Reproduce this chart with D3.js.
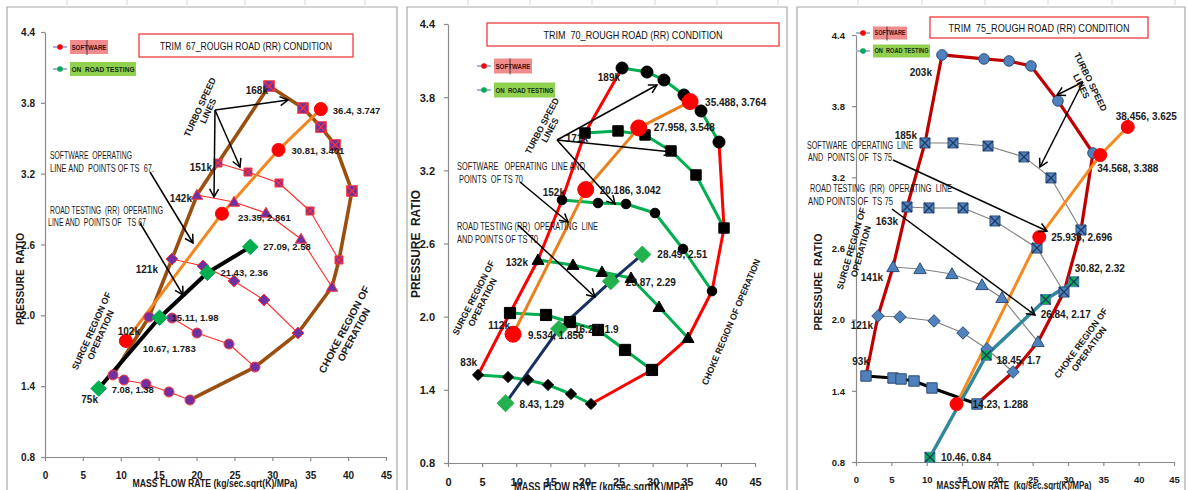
<!DOCTYPE html>
<html>
<head>
<meta charset="utf-8">
<script src="https://cdn.jsdelivr.net/npm/d3@7/dist/d3.min.js"></script>
<style>
  body { margin: 0; background: #fff; }
  svg { display: block; }
</style>
</head>
<body>
<svg id="chart" width="1188" height="490"></svg>
<script>
// ---------- shared axis ticks ----------
const flowTicks = [0, 5, 10, 15, 20, 25, 30, 35, 40, 45];
const ratioTicks = [0.8, 1.4, 2.0, 2.6, 3.2, 3.8, 4.4];
const ratioTickLabels = ["0.8", "1.4", "2.0", "2.6", "3.2", "3.8", "4.4"];

// ---------- TRIM 67 compressor map ----------
const ts67Speeds = ["75k", "102k", "121k", "142k", "151k", "168k"];
const ts67SpeedFlow = [
  [8.97, 10.42, 13.33, 16.36, 19.13],
  [13.72, 16.76, 20.06, 24.28, 27.71],
  [16.76, 20.85, 24.94, 28.9, 33.39],
  [20.06, 24.94, 29.16, 33.78, 37.87],
  [22.83, 26.79, 30.88, 34.97, 38.8],
  [29.56, 34.05, 36.42, 38.27, 40.51]
];
const ts67SpeedRatio = [
  [1.495, 1.452, 1.418, 1.351, 1.283],
  [1.986, 1.977, 1.85, 1.757, 1.562],
  [2.477, 2.418, 2.291, 2.13, 1.85],
  [3.019, 2.96, 2.867, 2.647, 2.24],
  [3.29, 3.214, 3.121, 2.884, 2.469],
  [3.942, 3.756, 3.595, 3.443, 3.053]
];
const ts67SoftFlow = [10.67, 23.35, 30.81, 36.4];
const ts67SoftRatio = [1.783, 2.861, 3.401, 3.747];
const ts67RoadFlow = [7.08, 15.11, 21.43, 27.09];
const ts67RoadRatio = [1.38, 1.98, 2.36, 2.58];

// ---------- TRIM 70 compressor map ----------
const ts70Speeds = ["83k", "112k", "132k", "152k", "171k", "189k"];
const ts70SpeedFlow = [
  [4.4, 8.8, 11.73, 14.66, 18.03, 20.96],
  [9.09, 14.37, 17.88, 21.99, 25.95, 29.9],
  [13.19, 18.32, 22.57, 26.83, 30.93, 35.18],
  [16.71, 21.99, 26.09, 30.34, 34.45, 38.7],
  [20.08, 24.92, 28.88, 32.69, 36.35, 40.46],
  [25.51, 29.17, 31.66, 34.59, 37.09, 39.72]
];
const ts70SpeedRatio = [
  [1.522, 1.505, 1.481, 1.44, 1.366, 1.284],
  [2.03, 2.014, 1.956, 1.891, 1.727, 1.563],
  [2.465, 2.424, 2.366, 2.317, 2.079, 1.825],
  [2.957, 2.932, 2.924, 2.85, 2.555, 2.21],
  [3.506, 3.523, 3.49, 3.359, 3.162, 2.727],
  [4.039, 4.006, 3.941, 3.818, 3.687, 3.432]
];
const ts70SoftFlow = [9.534, 20.186, 27.958, 35.488];
const ts70SoftRatio = [1.856, 3.042, 3.548, 3.764];
const ts70RoadFlow = [8.43, 16.27, 23.87, 28.49];
const ts70RoadRatio = [1.29, 1.9, 2.29, 2.51];

// ---------- TRIM 75 compressor map ----------
const ts75Speeds = ["93k", "121k", "141k", "163k", "185k", "203k"];
const ts75SpeedFlow = [
  [1.415, 5.24, 6.37, 8.21, 10.75, 17.12],
  [3.11, 6.23, 11.04, 15.14, 18.54, 22.22],
  [5.24, 9.06, 13.58, 17.83, 20.66, 25.75],
  [7.22, 10.33, 15.14, 19.67, 25.61, 29.43],
  [9.76, 13.73, 18.68, 23.77, 27.59, 31.84],
  [12.17, 18.11, 21.65, 24.76, 28.58, 33.54]
];
const ts75SpeedRatio = [
  [1.525, 1.508, 1.5, 1.483, 1.424, 1.289],
  [2.031, 2.023, 1.989, 1.888, 1.753, 1.559],
  [2.444, 2.427, 2.385, 2.292, 2.183, 1.812],
  [2.95, 2.942, 2.942, 2.832, 2.604, 2.233],
  [3.49, 3.49, 3.464, 3.372, 3.195, 2.756],
  [4.232, 4.198, 4.181, 4.139, 3.844, 3.405]
];
const ts75SoftFlow = [14.23, 25.936, 34.568, 38.456];
const ts75SoftRatio = [1.288, 2.696, 3.388, 3.625];
const ts75RoadFlow = [10.46, 18.45, 26.84, 30.82];
const ts75RoadRatio = [0.84, 1.7, 2.17, 2.32];

// ---------- helpers ----------
const NARROW = '"Liberation Sans Narrow","Arial Narrow","Liberation Sans",Arial,sans-serif';
const ARIAL = '"Liberation Sans",Arial,sans-serif';
const svg = d3.select("#chart");

const defs = svg.append("defs");
defs.append("marker").attr("id", "arrowHead")
  .attr("viewBox", "-10 -6 12 12").attr("refX", 0).attr("refY", 0)
  .attr("markerWidth", 12).attr("markerHeight", 12)
  .attr("markerUnits", "userSpaceOnUse").attr("orient", "auto")
  .append("path").attr("d", "M-8,-4.5L0,0L-8,4.5")
  .attr("fill", "none").attr("stroke", "#000").attr("stroke-width", 1.5);

function makeScales(xr, yr) {
  return {
    x: d3.scaleLinear().domain([0, 45]).range(xr),
    y: d3.scaleLinear().domain([0.8, 4.4]).range(yr)
  };
}
const zip = (fx, fy) => fx.map((v, i) => [v, fy[i]]);
const lineGen = sc => d3.line().x(d => sc.x(d[0])).y(d => sc.y(d[1]));

function drawPath(g, sc, pts, color, width) {
  g.append("path").datum(pts).attr("d", lineGen(sc))
    .attr("fill", "none").attr("stroke", color).attr("stroke-width", width)
    .attr("stroke-linejoin", "round").attr("stroke-linecap", "round");
}

function shapePath(type, s) {
  if (type === "circle") return `M${s},0A${s},${s} 0 1,1 ${-s},0A${s},${s} 0 1,1 ${s},0Z`;
  if (type === "diamond") return `M0,${-s * 1.3}L${s * 1.3},0L0,${s * 1.3}L${-s * 1.3},0Z`;
  if (type === "triangle") return `M0,${-s * 1.15}L${s * 1.15},${s * 0.85}L${-s * 1.15},${s * 0.85}Z`;
  return `M${-s},${-s}H${s}V${s}H${-s}Z`;
}

function drawMarkers(g, sc, pts, st) {
  const m = g.selectAll(null).data(pts).enter().append("g")
    .attr("transform", d => `translate(${sc.x(d[0])},${sc.y(d[1])})`);
  m.append("path").attr("d", shapePath(st.type, st.s))
    .attr("fill", st.fill).attr("stroke", st.stroke).attr("stroke-width", st.sw || 1);
  if (st.type === "squareX") {
    const c = st.s;
    m.append("path").attr("d", `M${-c},${-c}L${c},${c}M${c},${-c}L${-c},${c}`)
      .attr("stroke", st.cross).attr("stroke-width", 1.3);
  }
}

function text(g, x, y, str, o) {
  o = o || {};
  const t = g.append("text").attr("x", x).attr("y", y).attr("dy", "0.35em")
    .attr("font-family", o.family || NARROW).attr("font-size", o.size || 9)
    .attr("font-weight", o.weight || "normal").attr("fill", o.fill || "#1a1a1a")
    .attr("text-anchor", o.anchor || "start").style("white-space", "pre").text(str);
  if (o.len) t.attr("textLength", o.len).attr("lengthAdjust", "spacingAndGlyphs");
  return t;
}

function rotatedBlock(g, cx, cy, angle, lines, o) {
  const b = g.append("g").attr("transform", `translate(${cx},${cy}) rotate(${angle})`);
  const lh = o.lh || 10;
  lines.forEach((s, i) => {
    const t = b.append("text").attr("x", 0).attr("y", (i - (lines.length - 1) / 2) * lh)
      .attr("dy", "0.35em").attr("text-anchor", "middle")
      .attr("font-family", o.family || ARIAL).attr("font-size", o.size || 9)
      .attr("font-weight", "bold").attr("fill", "#1a1a1a").style("white-space", "pre").text(s);
    if (o.lens && o.lens[i]) t.attr("textLength", o.lens[i]).attr("lengthAdjust", "spacingAndGlyphs");
  });
}

function arrow(g, x1, y1, x2, y2) {
  g.append("line").attr("x1", x1).attr("y1", y1).attr("x2", x2).attr("y2", y2)
    .attr("stroke", "#000").attr("stroke-width", 1.5).attr("marker-end", "url(#arrowHead)");
}

function frame(g, x0, x1) {
  g.append("path").attr("d", `M${x0},495V${7}H${x1}V495`)
    .attr("fill", "none").attr("stroke", "#a8a8a8").attr("stroke-width", 1.2);
}

function axes(g, sc, o) {
  const ya = d3.axisLeft(sc.y).tickValues(ratioTicks)
    .tickFormat((d, i) => ratioTickLabels[i]).tickSize(4).tickSizeOuter(0);
  const gy = g.append("g").attr("transform", `translate(${sc.x(0)},0)`).call(ya);
  gy.selectAll("text").attr("x", -o.ylx).attr("dy", "0.35em");
  const xa = d3.axisBottom(sc.x).tickValues(flowTicks).tickFormat(d3.format("d"))
    .tickSize(4).tickSizeOuter(0);
  const gx = g.append("g").attr("transform", `translate(0,${sc.y(0.8)})`).call(xa);
  gx.selectAll("text").attr("y", o.xly).attr("dy", "0.35em");
  [gx, gy].forEach(a => {
    a.selectAll("path,line").attr("stroke", "#8a8a8a").attr("stroke-width", 1.2);
    a.selectAll("text").attr("font-family", NARROW).attr("font-size", o.fs)
      .attr("font-weight", "bold").attr("fill", "#1a1a1a");
  });
}

function legend(g, x, y1, y2, w1, w2, h, fs, cursorX) {
  [[y1, "#ff0000"], [y2, "#00a650"]].forEach(([y, c]) => {
    g.append("line").attr("x1", x - 7).attr("x2", x + 7).attr("y1", y).attr("y2", y)
      .attr("stroke", "#9fb6d6").attr("stroke-width", 2);
    g.append("circle").attr("cx", x).attr("cy", y).attr("r", 2.8).attr("fill", c);
  });
  const bx = x + 10;
  g.append("rect").attr("x", bx).attr("y", y1 - h / 2).attr("width", w1).attr("height", h).attr("fill", "#f08c8c");
  g.append("rect").attr("x", bx).attr("y", y2 - h / 2).attr("width", w2).attr("height", h).attr("fill", "#92d050");
  text(g, bx + 1.5, y1, "SOFTWARE", { size: fs, weight: "bold", len: w1 - 3, fill: "#3a1010" });
  text(g, bx + 1.5, y2, "ON  ROAD TESTING", { size: fs, weight: "bold", len: w2 - 3, fill: "#102a10" });
  g.append("line").attr("x1", cursorX).attr("x2", cursorX).attr("y1", y1 - h / 2).attr("y2", y1 + h / 2 + 1)
    .attr("stroke", "#222").attr("stroke-width", 0.8);
}

function titleBox(g, x0, y0, x1, y1, str, len, fs) {
  g.append("rect").attr("x", x0).attr("y", y0).attr("width", x1 - x0).attr("height", y1 - y0)
    .attr("fill", "#fff").attr("stroke", "#ee3b3b").attr("stroke-width", 1.3);
  text(g, (x0 + x1) / 2, (y0 + y1) / 2, str, { size: fs, anchor: "middle", len: len, fill: "#111" });
}

// faint worksheet grid marks along the top edge
const sheetCols = [67, 127, 187, 245, 305, 365, 468, 530, 592, 655, 717, 778, 858, 922, 985, 1048, 1112, 1175];
svg.append("g").selectAll("line").data(sheetCols).enter().append("line")
  .attr("x1", d => d).attr("x2", d => d).attr("y1", 0).attr("y2", 5)
  .attr("stroke", "#d4d4d4").attr("stroke-width", 1);

// ================= TRIM 67 =================
(function () {
  const sc = makeScales([45, 386], [457, 32]);
  const g = svg.append("g");
  frame(g, 7, 397);
  axes(g, sc, { ylx: 10, xly: 18, fs: 10 });

  const lines = ts67SpeedFlow.map((fx, i) => zip(fx, ts67SpeedRatio[i]));
  lines.slice(0, 5).forEach(p => drawPath(g, sc, p, "#ff2a2a", 1.1));
  const starts = lines.map(p => p[0]);
  const ends = lines.map(p => p[p.length - 1]);
  const boundary = starts.concat(lines[5].slice(1)).concat(ends.slice(0, 5).reverse());
  drawPath(g, sc, boundary, "#9a4f0e", 3.6);

  const soft = zip(ts67SoftFlow, ts67SoftRatio);
  const road = zip(ts67RoadFlow, ts67RoadRatio);
  drawPath(g, sc, soft, "#f3861f", 3);
  drawPath(g, sc, road, "#000", 4);

  const styles = [
    { type: "circle", s: 5 }, { type: "circle", s: 5 }, { type: "diamond", s: 4.6 },
    { type: "triangle", s: 5 }, { type: "squareX", s: 4, cross: "#ff3030" }, { type: "squareX", s: 5.3, cross: "#ff3030" }
  ];
  lines.forEach((p, i) => drawMarkers(g, sc, p, Object.assign({ fill: "#7030a0", stroke: "#ff3b3b", sw: 1 }, styles[i])));
  drawMarkers(g, sc, soft, { type: "circle", s: 6.5, fill: "#ff0000", stroke: "#ff0000" });
  drawMarkers(g, sc, road, { type: "diamond", s: 6, fill: "#00b050", stroke: "#00b050" });

  // speed labels next to the first point of each speed line
  const spOff = [[-15, 25], [-9, 15], [-14, 10], [-5, 3], [-6, 4], [-1, 4]];
  ts67Speeds.forEach((s, i) => text(g, sc.x(starts[i][0]) + spOff[i][0], sc.y(starts[i][1]) + spOff[i][1], s,
    { size: 10, weight: "bold", anchor: "end" }));
  const softOff = [[17, 8], [16, 4], [13, 1], [12, 2]];
  soft.forEach((d, i) => text(g, sc.x(d[0]) + softOff[i][0], sc.y(d[1]) + softOff[i][1],
    `${ts67SoftFlow[i]}, ${ts67SoftRatio[i]}`, { size: 9.5, weight: "bold" }));
  const roadOff = [[13, 1], [12, 0], [13, 0], [13, 0]];
  road.forEach((d, i) => text(g, sc.x(d[0]) + roadOff[i][0], sc.y(d[1]) + roadOff[i][1],
    `${ts67RoadFlow[i]}, ${ts67RoadRatio[i]}`, { size: 9.5, weight: "bold" }));

  titleBox(g, 139, 34, 353, 57, "TRIM  67_ROUGH ROAD (RR) CONDITION", 172, 11.5);
  legend(g, 60, 47, 69, 38, 66, 14, 8, 87);

  text(g, 50, 155, "SOFTWARE  OPERATING", { size: 10, len: 82 });
  text(g, 50, 168, "LINE AND  POINTS OF TS  67.", { size: 10, len: 104 });
  text(g, 50, 210, "ROAD TESTING  (RR)  OPERATING", { size: 10, len: 113 });
  text(g, 48, 222, "LINE AND  POINTS OF   TS 67", { size: 10, len: 98 });
  arrow(g, 150, 172, 193, 243);
  arrow(g, 140, 223, 183, 295);
  arrow(g, 215, 110, 288, 100);
  arrow(g, 215, 110, 240, 167);
  arrow(g, 215, 110, 214, 197);

  rotatedBlock(g, 204, 109, -65, ["TURBO SPEED", "LINES"], { size: 9, lh: 9, lens: [64] });
  rotatedBlock(g, 96, 333, -66, ["SURGE REGION OF", "OPERATION"], { size: 9, lh: 10, lens: [84] });
  rotatedBlock(g, 349, 332, -62, ["CHOKE REGION OF", "OPERATION"], { size: 10, lh: 11, lens: [97] });

  g.append("text").attr("transform", "translate(20,279) rotate(-90)").attr("dy", "0.35em")
    .attr("text-anchor", "middle").attr("font-family", ARIAL).attr("font-size", 11.5)
    .attr("font-weight", "bold").attr("fill", "#1a1a1a").attr("textLength", 92)
    .attr("lengthAdjust", "spacingAndGlyphs").style("white-space", "pre").text("PRESSURE  RATIO");
  text(g, 215, 483, "MASS FLOW RATE (kg/sec.sqrt(K)/MPa)", { family: ARIAL, size: 11, weight: "bold", anchor: "middle", len: 165 });
})();

// ================= TRIM 70 =================
(function () {
  const sc = makeScales([448, 755], [463, 24]);
  const g = svg.append("g");
  frame(g, 407, 787);
  axes(g, sc, { ylx: 13, xly: 19, fs: 11 });

  const lines = ts70SpeedFlow.map((fx, i) => zip(fx, ts70SpeedRatio[i]));
  lines.forEach(p => drawPath(g, sc, p, "#00b050", 3));
  const starts = lines.map(p => p[0]);
  const ends = lines.map(p => p[p.length - 1]);
  drawPath(g, sc, starts, "#ff0000", 3);
  drawPath(g, sc, ends, "#ff0000", 3);

  const soft = zip(ts70SoftFlow, ts70SoftRatio);
  const road = zip(ts70RoadFlow, ts70RoadRatio);
  drawPath(g, sc, soft, "#e8801e", 3);
  drawPath(g, sc, road, "#17305e", 3);

  const styles = [
    { type: "diamond", s: 4.3 }, { type: "square", s: 5.6 }, { type: "triangle", s: 5.2 },
    { type: "circle", s: 4.8 }, { type: "square", s: 5.2 }, { type: "circle", s: 6 }
  ];
  lines.forEach((p, i) => drawMarkers(g, sc, p, Object.assign({ fill: "#000", stroke: "#000" }, styles[i])));
  drawMarkers(g, sc, soft, { type: "circle", s: 8, fill: "#ff0000", stroke: "#ff0000" });
  drawMarkers(g, sc, road, { type: "diamond", s: 6.5, fill: "#22b14c", stroke: "#22b14c" });

  const spOff = [[-1, -12], [0, 12], [-10, 3], [3, -7], [3, 5], [-2, 9]];
  ts70Speeds.forEach((s, i) => text(g, sc.x(starts[i][0]) + spOff[i][0], sc.y(starts[i][1]) + spOff[i][1], s,
    { size: 10, weight: "bold", anchor: "end" }));
  const softOff = [[15, 1], [14, 1], [15, 0], [15, 1]];
  soft.forEach((d, i) => text(g, sc.x(d[0]) + softOff[i][0], sc.y(d[1]) + softOff[i][1],
    `${ts70SoftFlow[i]}, ${ts70SoftRatio[i]}`, { size: 10, weight: "bold" }));
  const roadOff = [[14, 1], [15, 1], [15, 1], [15, 0]];
  road.forEach((d, i) => text(g, sc.x(d[0]) + roadOff[i][0], sc.y(d[1]) + roadOff[i][1],
    `${ts70RoadFlow[i]}, ${ts70RoadRatio[i]}`, { size: 10, weight: "bold" }));

  titleBox(g, 487, 23, 779, 46, "TRIM  70_ROUGH ROAD (RR) CONDITION", 179, 11.5);
  legend(g, 484, 66, 90, 38, 61, 15, 8, 510);

  text(g, 457, 166, "SOFTWARE   OPERATING  LINE AND", { size: 10, len: 128 });
  text(g, 459, 179, "POINTS  OF TS 70", { size: 10, len: 64 });
  text(g, 457, 226, "ROAD TESTING (RR)  OPERATING  LINE", { size: 10, len: 141 });
  text(g, 457, 239, "AND POINTS OF TS 70", { size: 10, len: 81 });
  arrow(g, 520, 182, 568, 222);
  arrow(g, 518, 225, 595, 297);
  arrow(g, 557, 140, 657, 85);
  arrow(g, 557, 140, 672, 152);
  arrow(g, 557, 140, 615, 204);

  rotatedBlock(g, 546, 128, -62, ["TURBO SPEED", "LINES"], { size: 9, lh: 9, lens: [62] });
  rotatedBlock(g, 478, 300, -63, ["SURGE REGION OF", "OPERATION"], { size: 9, lh: 10, lens: [82] });
  rotatedBlock(g, 731, 322, -67, ["CHOKE REGION OF OPERATION"], { size: 9, lh: 10, lens: [136] });

  g.append("text").attr("transform", "translate(415,244) rotate(-90)").attr("dy", "0.35em")
    .attr("text-anchor", "middle").attr("font-family", ARIAL).attr("font-size", 13)
    .attr("font-weight", "bold").attr("fill", "#1a1a1a").attr("textLength", 108)
    .attr("lengthAdjust", "spacingAndGlyphs").style("white-space", "pre").text("PRESSURE  RATIO");
  text(g, 601, 487, "MASS FLOW RATE (kg/sec.sqrt(K)/MPa)", { family: ARIAL, size: 12, weight: "bold", anchor: "middle", len: 174 });
})();

// ================= TRIM 75 =================
(function () {
  const sc = makeScales([856, 1174], [462, 35]);
  const g = svg.append("g");
  frame(g, 797, 1185);
  axes(g, sc, { ylx: 11, xly: 18, fs: 9.5 });

  const lines = ts75SpeedFlow.map((fx, i) => zip(fx, ts75SpeedRatio[i]));
  lines.slice(1, 5).forEach(p => drawPath(g, sc, p, "#7f7f7f", 1.1));
  drawPath(g, sc, lines[0], "#000", 3);
  const starts = lines.map(p => p[0]);
  const ends = lines.map(p => p[p.length - 1]);
  const boundary = starts.concat(lines[5].slice(1)).concat(ends.slice(0, 5).reverse());
  drawPath(g, sc, boundary, "#c00000", 3.2);

  const soft = zip(ts75SoftFlow, ts75SoftRatio);
  const road = zip(ts75RoadFlow, ts75RoadRatio);
  drawPath(g, sc, soft, "#f58a1f", 3);
  drawPath(g, sc, road, "#31879c", 3.5);

  const styles = [
    { type: "square", s: 5.2 }, { type: "diamond", s: 4.8 }, { type: "triangle", s: 5.4 },
    { type: "squareX", s: 5, cross: "#1f3864" }, { type: "squareX", s: 5, cross: "#1f3864" }, { type: "circle", s: 5.3 }
  ];
  lines.forEach((p, i) => drawMarkers(g, sc, p, Object.assign({ fill: "#4f81bd", stroke: "#2c4d75", sw: 1 }, styles[i])));
  drawMarkers(g, sc, soft, { type: "circle", s: 6.5, fill: "#ff0000", stroke: "#ff0000" });
  drawMarkers(g, sc, road, { type: "squareX", s: 5, fill: "#00b050", stroke: "#4f81bd", cross: "#1f3864" });

  const spOff = [[3, -15], [-5, 10], [-10, 10], [-9, 15], [-8, -7], [-10, 18]];
  ts75Speeds.forEach((s, i) => text(g, sc.x(starts[i][0]) + spOff[i][0], sc.y(starts[i][1]) + spOff[i][1], s,
    { size: 10, weight: "bold", anchor: "end" }));
  const softOff = [[16, 0], [12, 0], [-3, 13], [-12, -10]];
  soft.forEach((d, i) => text(g, sc.x(d[0]) + softOff[i][0], sc.y(d[1]) + softOff[i][1],
    `${ts75SoftFlow[i]}, ${ts75SoftRatio[i]}`, { size: 10, weight: "bold" }));
  const roadOff = [[11, 0], [10, 5], [-5, 15], [1, -13]];
  road.forEach((d, i) => text(g, sc.x(d[0]) + roadOff[i][0], sc.y(d[1]) + roadOff[i][1],
    `${ts75RoadFlow[i]}, ${ts75RoadRatio[i]}`, { size: 10, weight: "bold" }));

  titleBox(g, 930, 17, 1148, 38, "TRIM  75_ROUGH ROAD (RR) CONDITION", 181, 11.5);
  legend(g, 863, 33, 51, 34, 57, 13, 7, 887);

  text(g, 807, 145, "SOFTWARE  OPERATING  LINE", { size: 10, len: 106 });
  text(g, 808, 157, "AND  POINTS  OF  TS 75", { size: 10, len: 84 });
  text(g, 810, 188, "ROAD TESTING  (RR)  OPERATING  LINE", { size: 10, len: 142 });
  text(g, 808, 201, "AND POINTS OF  TS 75", { size: 10, len: 85 });
  arrow(g, 893, 160, 1047, 231);
  arrow(g, 892, 209, 1035, 315);
  arrow(g, 1083, 82, 1057, 95);
  arrow(g, 1083, 82, 1040, 167);

  rotatedBlock(g, 1086, 84, 64, ["TURBO SPEED", "LINES"], { size: 9, lh: 10, lens: [64] });
  rotatedBlock(g, 856, 250, -74, ["SURGE REGION OF", "OPERATION"], { size: 9, lh: 10, lens: [85] });
  rotatedBlock(g, 1085, 346, -54, ["CHOKE REGION OF", "OPERATION"], { size: 9, lh: 10, lens: [84] });

  g.append("text").attr("transform", "translate(818,282) rotate(-90)").attr("dy", "0.35em")
    .attr("text-anchor", "middle").attr("font-family", ARIAL).attr("font-size", 10.5)
    .attr("font-weight", "bold").attr("fill", "#1a1a1a").attr("textLength", 97)
    .attr("lengthAdjust", "spacingAndGlyphs").style("white-space", "pre").text("PRESSURE  RATIO");
  text(g, 1014, 485, "MASS FLOW RATE  (kg/sec.sqrt(K)/MPa)", { family: ARIAL, size: 10.5, weight: "bold", anchor: "middle", len: 155 });
})();
</script>
</body>
</html>
